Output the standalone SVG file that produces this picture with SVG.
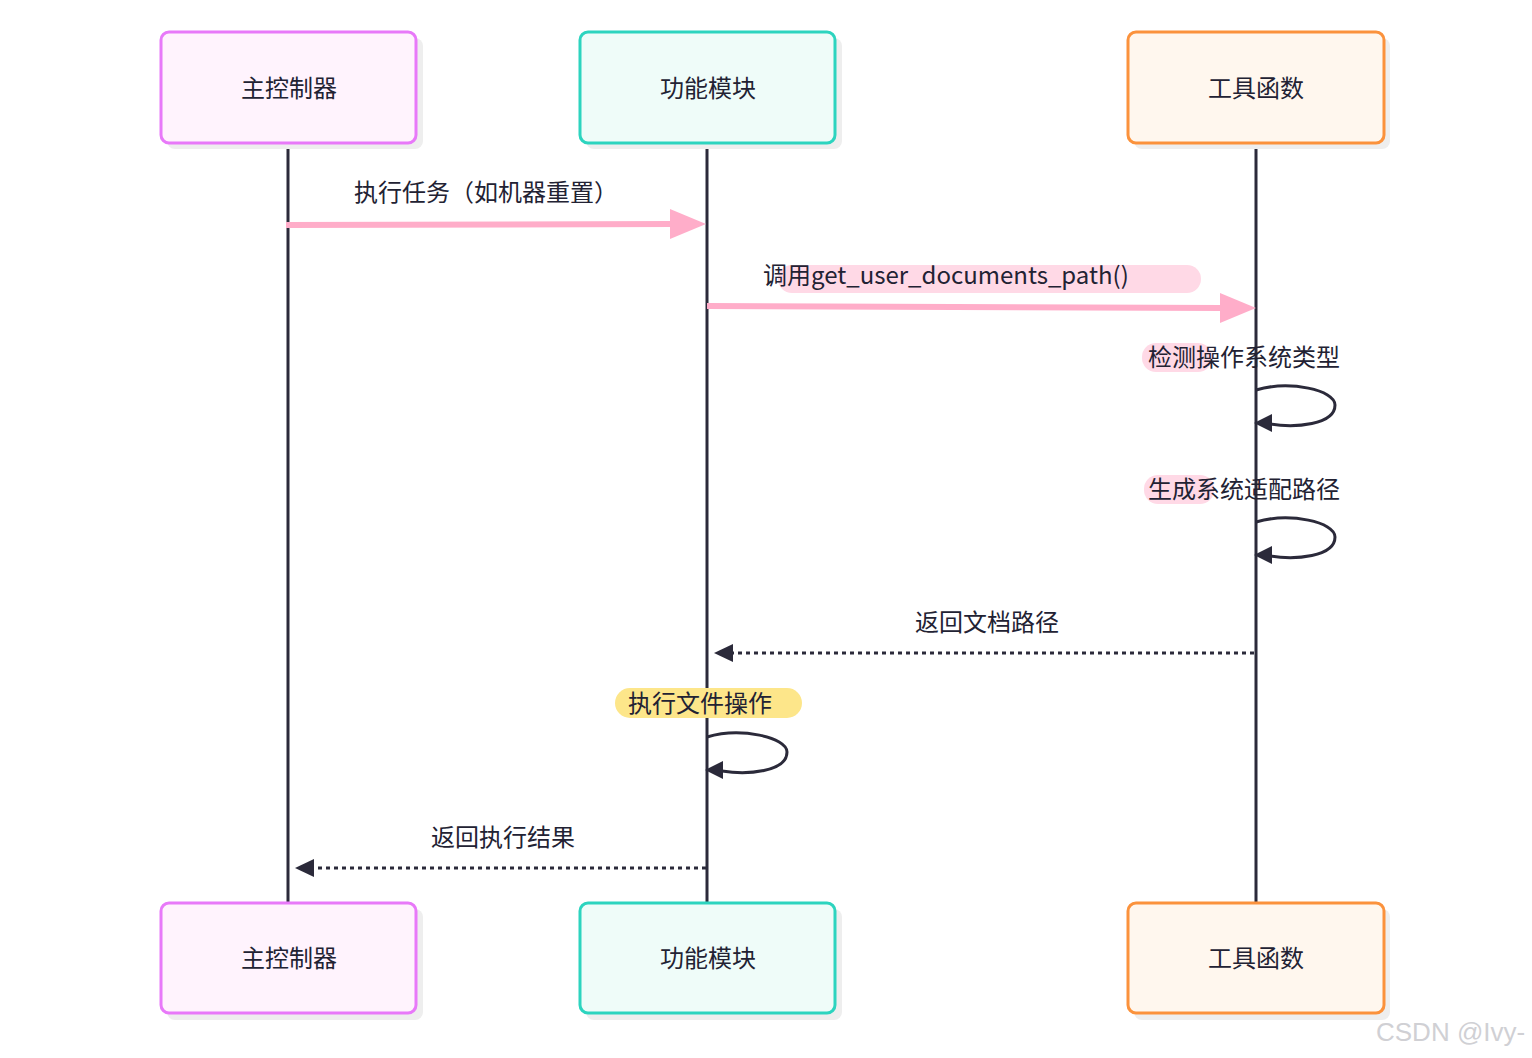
<svg xmlns="http://www.w3.org/2000/svg" width="1532" height="1058" viewBox="0 0 1532 1058">
<style>
text{font-family:"Noto Sans CJK SC","Noto Sans",sans-serif;font-size:24px;fill:#222233}
.c{text-anchor:middle}
.life{stroke:#2b2a3a;stroke-width:3}
.sh{fill:#eeeeee}
.msg{stroke:#ffadc9;stroke-width:6;fill:none}
.dot{stroke:#2b2a3a;stroke-width:3;stroke-dasharray:4 4;fill:none}
.self{stroke:#2b2a3a;stroke-width:3;fill:none}
</style>
<defs>
<marker id="pk" markerWidth="10" markerHeight="10" refX="9" refY="5" orient="auto" markerUnits="userSpaceOnUse" viewBox="0 0 10 10"><path d="M0,0 L10,5 L0,10 Z" fill="#ffadc9"/></marker>
<marker id="dk" markerWidth="20" markerHeight="18" refX="0" refY="9" orient="auto" markerUnits="userSpaceOnUse" viewBox="0 0 20 18"><path d="M20,0 L0,9 L20,18 Z" fill="#2b2a3a"/></marker>
</defs>
<g id="lifelines">
<line class="life" x1="288" y1="143" x2="288" y2="903"/>
<line class="life" x1="707" y1="143" x2="707" y2="903"/>
<line class="life" x1="1256" y1="143" x2="1256" y2="903"/>
</g>
<g id="a1"><rect class="sh" x="167" y="38" width="256" height="111" rx="8"/><rect x="161" y="32" width="255" height="111" rx="8" fill="#fff3fd" stroke="#e879f9" stroke-width="3"/><text class="c" x="289" y="97">主控制器</text></g>
<g id="a2"><rect class="sh" x="586" y="38" width="256" height="111" rx="8"/><rect x="580" y="32" width="255" height="111" rx="8" fill="#effcf9" stroke="#2dd4bf" stroke-width="3"/><text class="c" x="708" y="97">功能模块</text></g>
<g id="a3"><rect class="sh" x="1134" y="38" width="256" height="111" rx="8"/><rect x="1128" y="32" width="256" height="111" rx="8" fill="#fff7ee" stroke="#fb923c" stroke-width="3"/><text class="c" x="1256" y="97">工具函数</text></g>
<g id="b1"><rect class="sh" x="167" y="909" width="256" height="111" rx="8"/><rect x="161" y="903" width="255" height="110" rx="8" fill="#fff3fd" stroke="#e879f9" stroke-width="3"/><text class="c" x="289" y="967">主控制器</text></g>
<g id="b2"><rect class="sh" x="586" y="909" width="256" height="111" rx="8"/><rect x="580" y="903" width="255" height="110" rx="8" fill="#effcf9" stroke="#2dd4bf" stroke-width="3"/><text class="c" x="708" y="967">功能模块</text></g>
<g id="b3"><rect class="sh" x="1134" y="909" width="256" height="111" rx="8"/><rect x="1128" y="903" width="256" height="110" rx="8" fill="#fff7ee" stroke="#fb923c" stroke-width="3"/><text class="c" x="1256" y="967">工具函数</text></g>
<g id="connectors">
<path d="M286,225 L672,224" class="msg"/><path d="M670,209 L706,224 L670,239 Z" fill="#ffadc9"/>
<text class="c" x="486" y="201">执行任务（如机器重置）</text>
<rect x="778" y="265" width="423" height="28" rx="14" fill="#ffd9e6"/>
<path d="M707,306 L1222,308" class="msg"/><path d="M1220,293 L1256,308 L1220,323 Z" fill="#ffadc9"/>
<text x="763" y="284">调用get_user_documents_path()</text>
<rect x="1142" y="343" width="70" height="29" rx="14" fill="#ffd9e6"/>
<text x="1148" y="366">检测操作系统类型</text>
<path class="self" d="M1256,390 C1290,380 1335,390 1335,405 C1335,425 1295,428 1270,424"/><path d="M1254,423 L1272,414 L1272,432 Z" fill="#2b2a3a"/>
<rect x="1144" y="475" width="70" height="29" rx="14" fill="#ffd9e6"/>
<text x="1148" y="498">生成系统适配路径</text>
<path class="self" d="M1256,522 C1290,512 1335,522 1335,537 C1335,557 1295,560 1270,556"/><path d="M1254,555 L1272,546 L1272,564 Z" fill="#2b2a3a"/>
<path class="dot" d="M1254,653 L732,653"/><path d="M714,653 L733,644 L733,662 Z" fill="#2b2a3a"/>
<text class="c" x="987" y="631">返回文档路径</text>
<rect x="615" y="688" width="187" height="30" rx="15" fill="#fde68a"/>
<text x="628" y="712">执行文件操作</text>
<path class="self" d="M707,737 C740,727 787,737 787,752 C787,772 747,775 722,771"/><path d="M705,770 L723,761 L723,779 Z" fill="#2b2a3a"/>
<path class="dot" d="M706,868 L314,868"/><path d="M295,868 L314,859 L314,877 Z" fill="#2b2a3a"/>
<text class="c" x="503" y="846">返回执行结果</text>
</g>
<text x="1376" y="1041" style="font-family:'Liberation Sans',sans-serif;font-size:26px;fill:#d0d0d4">CSDN @Ivy-</text>
</svg>
